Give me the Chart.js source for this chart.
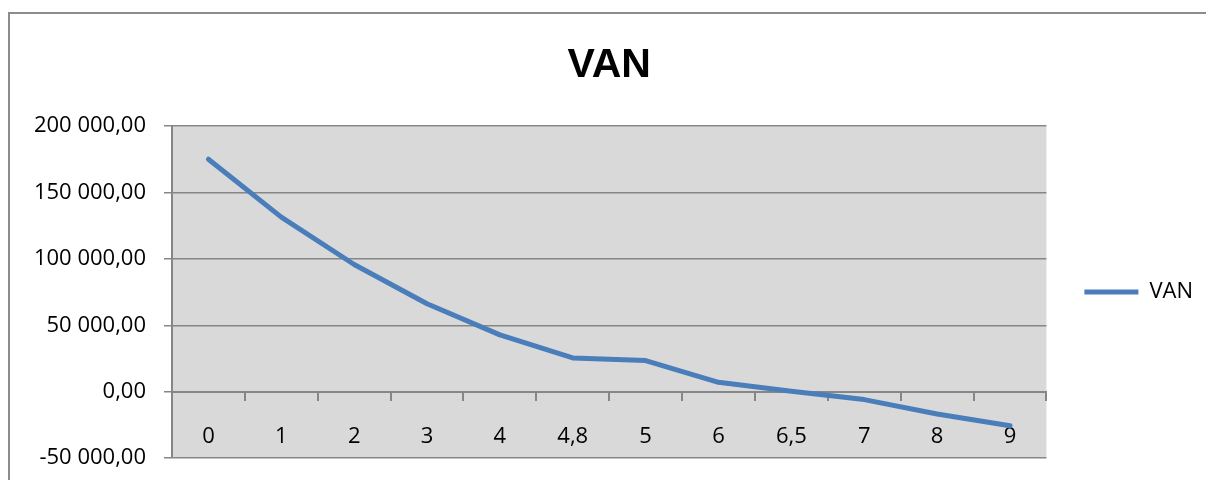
<!DOCTYPE html>
<html>
<head>
<meta charset="utf-8">
<script src="https://cdn.jsdelivr.net/npm/chart.js@4/dist/chart.umd.min.js"></script>
<style>
  html, body { margin: 0; padding: 0; background: #fff; }
  #wrap { width: 1206px; height: 480px; }
</style>
</head>
<body>
<div id="wrap"><canvas id="vanChart"></canvas></div>
<script>
// --- data ---
const categories = ["0", "1", "2", "3", "4", "4,8", "5", "6", "6,5", "7", "8", "9"];
const vanValues = [175100, 131500, 95800, 66200, 42800, 25400, 23400, 7000, 300, -6000, -16800, -25700];
const yTickLabels = ["-50 000,00", "0,00", "50 000,00", "100 000,00", "150 000,00", "200 000,00"];

const gridGray = "#868686";
const lineBlue = "#4a7ebb";
const labelFont = { family: "Open Sans", size: 22 };

// gray plot area + outer chart frame (Excel look)
const excelBackdrop = {
    id: "excelBackdrop",
    beforeDraw(chart) {
        const { ctx, chartArea } = chart;
        ctx.save();
        ctx.fillStyle = "#d9d9d9";
        ctx.fillRect(chartArea.left, chartArea.top, chartArea.right - chartArea.left, chartArea.bottom - chartArea.top);
        ctx.strokeStyle = "#8c8c8c";
        ctx.lineWidth = 2;
        ctx.beginPath();
        ctx.moveTo(9, 480);
        ctx.lineTo(9, 13);
        ctx.lineTo(1206, 13);
        ctx.stroke();
        ctx.restore();
    }
};

new Chart(document.getElementById("vanChart"), {
    type: "line",
    data: {
        labels: categories,
        datasets: [{
            label: "VAN",
            data: vanValues,
            borderColor: lineBlue,
            backgroundColor: lineBlue,
            borderWidth: 5,
            borderCapStyle: "round",
            borderJoinStyle: "round",
            pointRadius: 0,
            tension: 0
        }]
    },
    options: {
        responsive: true,
        maintainAspectRatio: false,
        animation: false,
        layout: {
            padding: { top: 14, left: 8, right: 3, bottom: 22 }
        },
        plugins: {
            title: {
                display: true,
                fullSize: false,
                text: "VAN",
                color: "#000",
                font: { family: "Liberation Sans", size: 41, weight: "bold" },
                padding: { top: 27, bottom: 36 }
            },
            legend: {
                position: "right",
                fullSize: false,
                labels: {
                    color: "#000",
                    font: labelFont,
                    usePointStyle: true,
                    pointStyle: "line",
                    pointStyleWidth: 54,
                    boxHeight: 5,
                    padding: 38
                }
            },
            tooltip: { enabled: false }
        },
        scales: {
            x: {
                position: { y: 0 },
                offset: true,
                grid: {
                    offset: true,
                    drawOnChartArea: false,
                    drawTicks: true,
                    tickLength: 8,
                    color: gridGray,
                    lineWidth: 2
                },
                border: { color: gridGray, width: 2 },
                ticks: {
                    color: "#000",
                    font: labelFont,
                    padding: 24,
                    maxRotation: 0,
                    autoSkip: false
                }
            },
            y: {
                min: -50000,
                max: 200000,
                afterFit(scale) {
                    scale.width = 164;
                    scale.paddingTop = 0;
                    scale.paddingBottom = 0;
                },
                grid: {
                    color: gridGray,
                    lineWidth: 1.5,
                    tickLength: 8
                },
                border: { color: gridGray, width: 2 },
                ticks: {
                    stepSize: 50000,
                    color: "#000",
                    font: labelFont,
                    padding: 18,
                    callback: (value, index) => yTickLabels[index]
                }
            }
        }
    },
    plugins: [excelBackdrop]
});
</script>
</body>
</html>
